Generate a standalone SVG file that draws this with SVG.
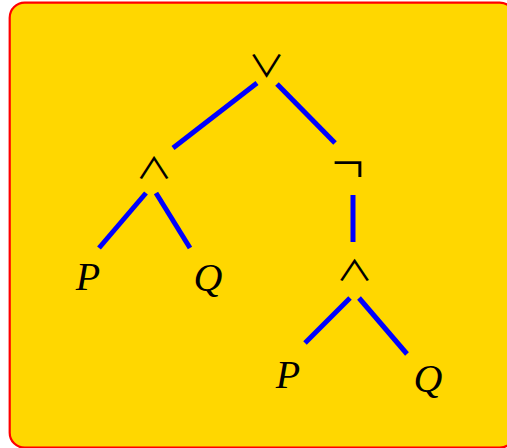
<svg xmlns="http://www.w3.org/2000/svg" width="507" height="448" viewBox="0 0 507 448">
<style>
.op{font-family:"Noto Sans CJK SC","DejaVu Sans",sans-serif;font-weight:400;font-size:37px;fill:#000;text-anchor:middle}
.neg{font-size:58px;font-weight:300}
.var{font-family:"Liberation Serif",serif;font-style:italic;font-size:40px;fill:#000;text-anchor:middle}
.edge{stroke:#0000FF;stroke-width:5;fill:none}
</style>
<rect x="9.7" y="2.7" width="505" height="445" rx="15" ry="15" fill="#FFD700" stroke="#FF0000" stroke-width="2.2"/>
<g id="connectors">
<line class="edge" x1="257" y1="83" x2="173" y2="148"/>
<line class="edge" x1="277" y1="84" x2="335" y2="143"/>
<line class="edge" x1="353" y1="195" x2="353" y2="242"/>
<line class="edge" x1="146" y1="193" x2="99" y2="248"/>
<line class="edge" x1="156" y1="193" x2="190" y2="248"/>
<line class="edge" x1="350" y1="298" x2="305" y2="343"/>
<line class="edge" x1="359" y1="298" x2="407" y2="354"/>
</g>
<g id="or"><text class="op" transform="translate(266.5,77) scale(1,0.82)">∨</text></g>
<g id="and1"><text class="op" transform="translate(154,179) scale(1,0.8)">∧</text></g>
<g id="not"><text class="op neg" x="348" y="183.5">¬</text></g>
<g id="P1"><text class="var" x="88" y="290">P</text></g>
<g id="Q1"><text class="var" x="208" y="291">Q</text></g>
<g id="and2"><text class="op" transform="translate(354.5,281) scale(1,0.77)">∧</text></g>
<g id="P2"><text class="var" x="288" y="388">P</text></g>
<g id="Q2"><text class="var" x="428" y="392">Q</text></g>
</svg>
